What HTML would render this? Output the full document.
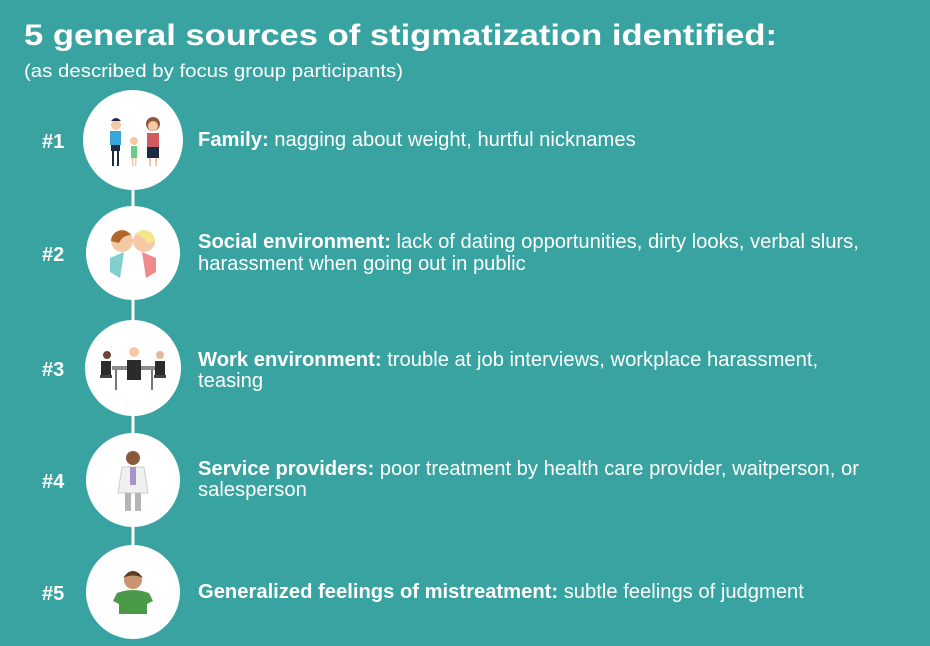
<!DOCTYPE html>
<html><head><meta charset="utf-8"><style>
html,body{margin:0;padding:0;background:#38a3a1;}
svg{display:block}
text{font-family:"Liberation Sans",Arial,sans-serif;fill:#fff}
</style></head><body>
<svg width="930" height="646" viewBox="0 0 930 646" xmlns="http://www.w3.org/2000/svg">
<rect width="930" height="646" fill="#38a3a1"/>
<text x="24" y="45" font-size="30" font-weight="bold" textLength="753" lengthAdjust="spacingAndGlyphs">5 general sources of stigmatization identified:</text>
<text x="24" y="77" font-size="18" textLength="379" lengthAdjust="spacingAndGlyphs">(as described by focus group participants)</text>
<line x1="133" y1="140" x2="133" y2="600" stroke="#fff" stroke-width="3"/>
<g fill="#fff">
<circle cx="133" cy="140" r="50"/>
<circle cx="133" cy="253" r="47"/>
<circle cx="133" cy="368" r="48"/>
<circle cx="133" cy="480" r="47"/>
<circle cx="133" cy="592" r="47"/>
</g>
<g font-size="20" font-weight="bold">
<text x="42" y="148">#1</text>
<text x="42" y="261">#2</text>
<text x="42" y="376">#3</text>
<text x="42" y="488">#4</text>
<text x="42" y="600">#5</text>
</g>
<g>
<circle cx="116" cy="125" r="5" fill="#f6c9a6"/><path d="M111 121 q5 -6 10 0 z" fill="#1d2b44"/>
<rect x="110" y="131" width="11" height="14" fill="#38a7d8"/><rect x="111" y="145" width="9" height="6" fill="#1d2b44"/>
<rect x="112" y="151" width="2" height="15" fill="#1d2b44"/><rect x="117" y="151" width="2" height="15" fill="#1d2b44"/>
<circle cx="134" cy="141" r="4" fill="#f6c9a6"/><rect x="131" y="146" width="6" height="12" fill="#6cc98a"/>
<rect x="132" y="158" width="1.5" height="8" fill="#f6c9a6"/><rect x="135" y="158" width="1.5" height="8" fill="#f6c9a6"/>
<circle cx="153" cy="124" r="7" fill="#8b5a3c"/><circle cx="153" cy="126" r="5" fill="#f6c9a6"/>
<rect x="147" y="133" width="12" height="14" fill="#d15a60"/><rect x="147" y="147" width="12" height="11" fill="#1d2b44"/>
<rect x="149" y="158" width="2" height="8" fill="#f6c9a6"/><rect x="155" y="158" width="2" height="8" fill="#f6c9a6"/>
</g>
<g>
<path d="M110 258 l14 -6 l-4 26 l-10 -6 z" fill="#7fd0cc"/>
<path d="M156 258 l-14 -6 l4 26 l10 -6 z" fill="#ee8a8a"/>
<circle cx="122" cy="241" r="11" fill="#f6c9a6"/><path d="M111 241 a11 11 0 0 1 20 -6 q-8 0 -12 8 z" fill="#b0672e"/>
<circle cx="144" cy="241" r="11" fill="#f6c9a6"/><path d="M155 241 a11 11 0 0 0 -20 -6 q8 0 12 8 z" fill="#f6e58a"/>
</g>
<g>
<rect x="112" y="366" width="44" height="4" fill="#8e8e8e"/>
<rect x="115" y="370" width="2" height="20" fill="#777"/><rect x="151" y="370" width="2" height="20" fill="#777"/>
<circle cx="134" cy="352" r="5" fill="#f6c9a6"/><path d="M127 360 h14 v20 h-14 z" fill="#2b2b2b"/>
<circle cx="107" cy="355" r="4" fill="#6b4634"/><path d="M101 361 h10 v14 h-10 z" fill="#2b2b2b"/><rect x="100" y="375" width="12" height="3" fill="#444"/>
<circle cx="160" cy="355" r="4" fill="#e7b898"/><path d="M155 361 h10 v14 h-10 z" fill="#2b2b2b"/><rect x="154" y="375" width="12" height="3" fill="#444"/>
</g>
<g>
<circle cx="133" cy="458" r="7" fill="#8a5a3c"/>
<path d="M122 467 h22 l4 26 h-30 z" fill="#f0f0f0" stroke="#ccc"/>
<rect x="130" y="467" width="6" height="18" fill="#a996c9"/>
<rect x="125" y="493" width="6" height="18" fill="#b5b5b5"/><rect x="135" y="493" width="6" height="18" fill="#b5b5b5"/>
</g>
<g>
<circle cx="133" cy="580" r="9" fill="#c99470"/><path d="M123 578 q10 -14 20 0 q-10 -5 -20 0z" fill="#5b3a22"/>
<path d="M117 593 q16 -6 32 0 l4 8 l-6 3 v10 h-28 v-10 l-6 -3 z" fill="#4a9a4a"/>
</g>
<g font-size="20.2">
<text x="198" y="146"><tspan font-weight="bold">Family:</tspan> nagging about weight, hurtful nicknames</text>
<text x="198" y="248"><tspan font-weight="bold">Social environment:</tspan> lack of dating opportunities, dirty looks, verbal slurs,</text>
<text x="198" y="270">harassment when going out in public</text>
<text x="198" y="366"><tspan font-weight="bold">Work environment:</tspan> trouble at job interviews, workplace harassment,</text>
<text x="198" y="387">teasing</text>
<text x="198" y="475"><tspan font-weight="bold">Service providers:</tspan> poor treatment by health care provider, waitperson, or</text>
<text x="198" y="496">salesperson</text>
<text x="198" y="598"><tspan font-weight="bold">Generalized feelings of mistreatment:</tspan> subtle feelings of judgment</text>
</g>
</svg>
</body></html>
